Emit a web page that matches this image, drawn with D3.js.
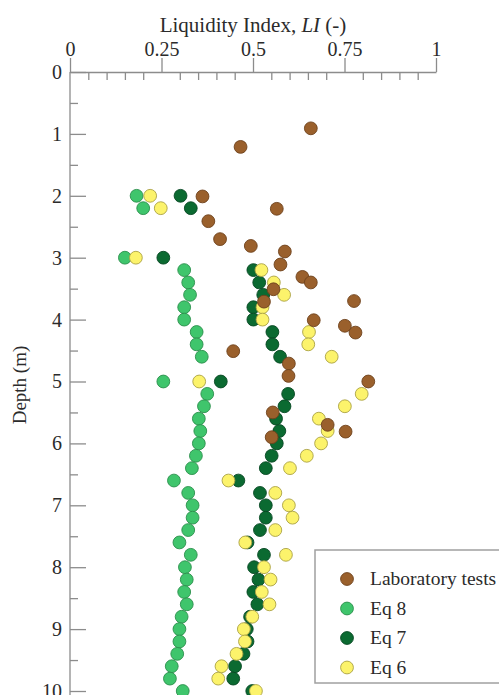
<!DOCTYPE html>
<html>
<head>
<meta charset="utf-8">
<script src="https://cdn.jsdelivr.net/npm/d3@7"></script>
<style>
  body { margin: 0; background: #fff; }
  text { font-family: "Liberation Serif", "Times New Roman", serif; fill: #2b2b2b; }
</style>
</head>
<body>
<svg id="chart" width="499" height="695"></svg>
<script>
// depths (m) shared by the three equations
const depths = [2.0, 2.2, 3.0, 3.2, 3.4, 3.6, 3.8, 4.0, 4.2, 4.4, 4.6, 5.0, 5.2, 5.4, 5.6, 5.8,
  6.0, 6.2, 6.4, 6.6, 6.8, 7.0, 7.2, 7.4, 7.6, 7.8, 8.0, 8.2, 8.4, 8.6, 8.8, 9.0, 9.2, 9.4,
  9.6, 9.8, 10.0]

// liquidity index per depth
const eq8 = [0.182, 0.200, 0.150, 0.312, 0.323, 0.328, 0.312, 0.312, 0.346, 0.346, 0.360, 0.255,
  0.375, 0.366, 0.352, 0.356, 0.352, 0.344, 0.333, 0.284, 0.323, 0.335, 0.335, 0.323, 0.299,
  0.330, 0.314, 0.319, 0.312, 0.319, 0.305, 0.299, 0.299, 0.293, 0.278, 0.273, 0.308]
const eq7 = [0.302, 0.330, 0.255, 0.501, 0.517, 0.528, 0.501, 0.501, 0.553, 0.553, 0.574, 0.412,
  0.596, 0.586, 0.563, 0.572, 0.565, 0.551, 0.535, 0.460, 0.519, 0.535, 0.535, 0.519, 0.485,
  0.530, 0.503, 0.515, 0.501, 0.512, 0.492, 0.483, 0.485, 0.474, 0.451, 0.446, 0.498]
const eq6 = [0.219, 0.248, 0.180, 0.523, 0.557, 0.585, 0.526, 0.526, 0.653, 0.651, 0.715, 0.353,
  0.797, 0.751, 0.680, 0.704, 0.686, 0.647, 0.601, 0.433, 0.561, 0.598, 0.608, 0.561, 0.479,
  0.590, 0.530, 0.548, 0.524, 0.545, 0.498, 0.475, 0.478, 0.455, 0.414, 0.405, 0.508]

// laboratory tests
const labDepth = [0.91, 1.21, 2.01, 2.21, 2.41, 2.70, 2.81, 2.90, 3.11, 3.31, 3.40, 3.51, 3.71,
  3.70, 4.01, 4.10, 4.21, 4.51, 4.71, 4.91, 5.00, 5.50, 5.70, 5.81, 5.90]
const labLI = [0.658, 0.466, 0.362, 0.565, 0.378, 0.410, 0.494, 0.587, 0.575, 0.635, 0.658, 0.556,
  0.530, 0.776, 0.666, 0.751, 0.780, 0.446, 0.598, 0.597, 0.815, 0.554, 0.704, 0.753, 0.551]

const xMajor = [0, 0.25, 0.5, 0.75, 1]
const xLabels = ['0', '0.25', '0.5', '0.75', '1']
const yMajor = [0, 1, 2, 3, 4, 5, 6, 7, 8, 9, 10]

const svg = d3.select('#chart')

const x = d3.scaleLinear().domain([0, 1]).range([70, 436])
const y = d3.scaleLinear().domain([0, 10]).range([72, 691])

// top axis: majors stick out, minors point into the plot
const xMinor = d3.range(0, 1.0001, 0.05).filter(v => Math.abs(v * 4 - Math.round(v * 4)) > 1e-6)

svg.append('g')
  .attr('transform', 'translate(0,72)')
  .call(d3.axisTop(x).tickValues(xMajor).tickFormat((d, i) => xLabels[i])
    .tickSize(14).tickSizeOuter(0).tickPadding(2))
  .call(g => g.selectAll('text').style('font-size', '20px').attr('font-family', null))

svg.append('g')
  .attr('transform', 'translate(0,72)')
  .call(d3.axisBottom(x).tickValues(xMinor).tickSize(8).tickFormat(''))
  .call(g => g.select('.domain').remove())

// left axis
svg.append('g')
  .attr('transform', 'translate(70,0)')
  .call(d3.axisLeft(y).tickValues(yMajor).tickSize(-16).tickSizeOuter(0).tickPadding(8))
  .call(g => g.selectAll('text').style('font-size', '20px').attr('font-family', null))
  .call(g => g.select('.domain').remove())

svg.append('g')
  .attr('transform', 'translate(70,0)')
  .call(d3.axisLeft(y).tickValues(d3.range(0.5, 10, 1)).tickSize(-8).tickFormat(''))
  .call(g => g.select('.domain').remove())

svg.append('line')
  .attr('x1', 70).attr('x2', 70)
  .attr('y1', 72).attr('y2', 700)

svg.selectAll('.domain, .tick line, line')
  .attr('stroke', '#8c8c8c').attr('stroke-width', 1.3)

// titles
const title = svg.append('text')
  .attr('x', x(0.5)).attr('y', 32)
  .attr('text-anchor', 'middle')
  .style('font-size', '21px')
title.append('tspan').text('Liquidity Index, ')
title.append('tspan').style('font-style', 'italic').text('LI')
title.append('tspan').text(' (-)')

svg.append('text')
  .attr('transform', 'translate(26,385) rotate(-90)')
  .attr('text-anchor', 'middle')
  .style('font-size', '19px')
  .text('Depth (m)')

// points
const series = [
  { name: 'Eq 8', vals: eq8, fill: '#3fc56c', stroke: '#2b8f4c' },
  { name: 'Eq 7', vals: eq7, fill: '#0b6a31', stroke: '#074722' },
  { name: 'Eq 6', vals: eq6, fill: '#fcf36b', stroke: '#aaa244' }
]
const lab = { name: 'Laboratory tests', fill: '#9a602c', stroke: '#6e421c' }

const r = 6.4

series.forEach(s => {
  svg.append('g').selectAll('circle')
    .data(depths.map((d, i) => [s.vals[i], d]))
    .join('circle')
    .attr('cx', d => x(d[0]))
    .attr('cy', d => y(d[1]))
    .attr('r', r)
    .attr('fill', s.fill)
    .attr('stroke', s.stroke)
    .attr('stroke-width', 0.9)
})

svg.append('g').selectAll('circle')
  .data(labDepth.map((d, i) => [labLI[i], d]))
  .join('circle')
  .attr('cx', d => x(d[0]))
  .attr('cy', d => y(d[1]))
  .attr('r', r)
  .attr('fill', lab.fill)
  .attr('stroke', lab.stroke)
  .attr('stroke-width', 0.9)

// legend
const legendItems = [lab, series[0], series[1], series[2]]
const legend = svg.append('g')

legend.append('rect')
  .attr('x', 315).attr('y', 550)
  .attr('width', 200).attr('height', 133)
  .attr('fill', '#fff')
  .attr('stroke', '#a0a0a0')
  .attr('stroke-width', 1.5)

const rows = legend.selectAll('g.row')
  .data(legendItems)
  .join('g')
  .attr('class', 'row')
  .attr('transform', (d, i) => `translate(347,${579 + i * 29.5})`)

rows.append('circle')
  .attr('r', r)
  .attr('fill', d => d.fill)
  .attr('stroke', d => d.stroke)
  .attr('stroke-width', 0.9)

rows.append('text')
  .attr('x', 23)
  .attr('dy', '0.33em')
  .style('font-size', '19.5px')
  .text(d => d.name)
</script>
</body>
</html>
